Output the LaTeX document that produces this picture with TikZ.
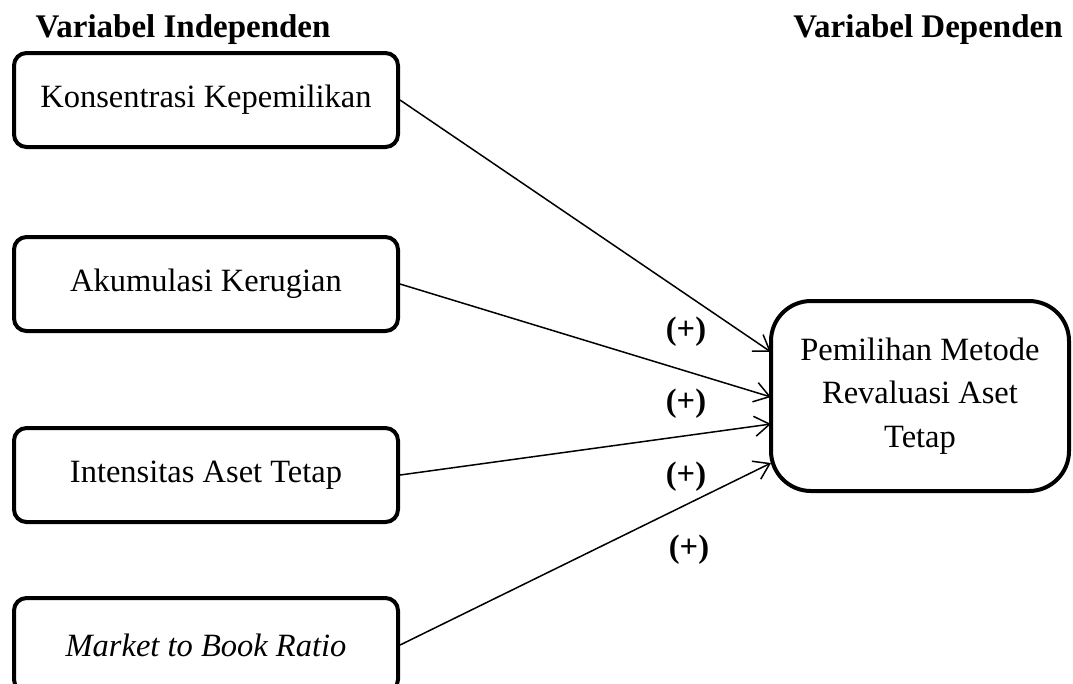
\documentclass[tikz,border=0pt]{standalone}
\usepackage{fontspec}
\setmainfont{Liberation Serif}
\usetikzlibrary{positioning,arrows.meta}
\tikzset{
  var box/.style={
    rectangle, rounded corners=5pt,
    draw=black, line width=1.6pt,
    font=\fontsize{13}{15}\selectfont,
    minimum width=384*0.4pt, minimum height=94*0.4pt,
  },
  dep box/.style={
    rectangle, rounded corners=16pt,
    draw=black, line width=1.6pt,
    font=\fontsize{13}{17.5}\selectfont, align=center,
    minimum width=298*0.4pt, minimum height=190*0.4pt,
  },
  var head/.style={font=\fontsize{13.2}{15}\selectfont\bfseries},
  var arrow/.style={
    -{Straight Barb[length=6pt,width=8pt]},
    line width=0.6pt,
  },
  sign/.style={font=\fontsize{13}{15}\selectfont\bfseries},
}

\begin{document}
\begin{tikzpicture}[x=0.4pt,y=-0.4pt]
\useasboundingbox (0,0) rectangle (1073,683);

% --- HEADINGS ---
\node[var head] (hind) at (183,30) {Variabel Independen};
\node[var head] (hdep) at (928,30) {Variabel Dependen};

% --- INDEPENDENT VARIABLES ---
\node[var box] (kk) at (206,100) {Konsentrasi Kepemilikan};
\node[var box] (ak) at (206,284) {Akumulasi Kerugian};
\node[var box] (ia) at (206,475) {Intensitas Aset Tetap};
\node[var box] (mb) at (206,645) {\itshape Market to Book Ratio};

% --- DEPENDENT VARIABLE ---
\node[dep box] (pm) at (920,396) {Pemilihan Metode\\Revaluasi Aset\\Tetap};

\coordinate (t1) at (771,352);
\coordinate (t2) at (771,397);
\coordinate (t3) at (771,424);
\coordinate (t4) at (771,463);

% --- ARROWS ---
\draw[var arrow] (kk.east) -- (t1);
\draw[var arrow] (ak.east) -- (t2);
\draw[var arrow] (ia.east) -- (t3);
\draw[var arrow] (mb.east) -- (t4);

% --- SIGNS ---
\node[sign] (s1) at (686,332) {(+)};
\node[sign] (s2) at (686,404) {(+)};
\node[sign] (s3) at (686,477) {(+)};
\node[sign] (s4) at (689,550) {(+)};

\end{tikzpicture}
\end{document}
